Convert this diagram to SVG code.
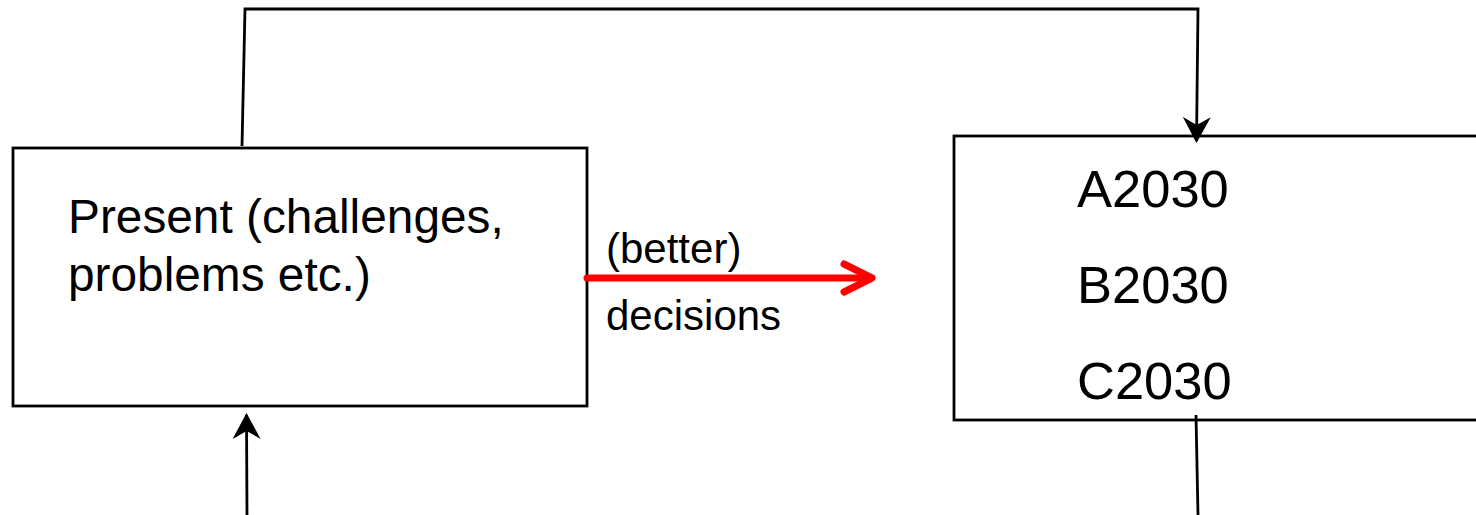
<svg xmlns="http://www.w3.org/2000/svg" width="1476" height="515" viewBox="0 0 1476 515">
<style>
.box{fill:#fff;stroke:#000;stroke-width:2.8}
.t{font-family:"Liberation Sans",Arial,sans-serif;fill:#000}
.conn{fill:none;stroke:#000;stroke-width:2.8}
</style>
<defs>
<marker id="ah" markerUnits="userSpaceOnUse" viewBox="0 0 26 28" refX="24" refY="14" markerWidth="26" markerHeight="28" orient="auto">
<path d="M0,0 L26,14 L0,28 L8,14 Z" fill="#000"/>
</marker>
</defs>
<rect width="1476" height="515" fill="#fff"/>
<g id="present">
<rect class="box" x="13" y="148" width="574" height="258"/>
<text class="t" font-size="47.8"><tspan x="68" y="233">Present (challenges,</tspan><tspan x="68" y="291">problems etc.)</tspan></text>
</g>
<g id="futures">
<rect class="box" x="954" y="136" width="540" height="284"/>
<text class="t" font-size="52.5" x="1077" y="207">A2030</text>
<text class="t" font-size="52.5" x="1077" y="303">B2030</text>
<text class="t" font-size="52.5" x="1077" y="399">C2030</text>
</g>
<g id="connectors">
<path class="conn" d="M242,146 L245,9 L1198,9 L1196.5,141" marker-end="url(#ah)"/>
<path class="conn" d="M247,515 L246.5,415" marker-end="url(#ah)"/>
<path class="conn" d="M1196,415 L1198,515"/>
<g fill="none" stroke="#f00" stroke-width="7" stroke-linecap="round" stroke-linejoin="round">
<path d="M587,278 L870,278"/>
<path d="M844,264 L872,278 L844,292"/>
</g>
<text class="t" font-size="42" x="606" y="263">(better)</text>
<text class="t" font-size="42" x="606" y="330">decisions</text>
</g>
</svg>
